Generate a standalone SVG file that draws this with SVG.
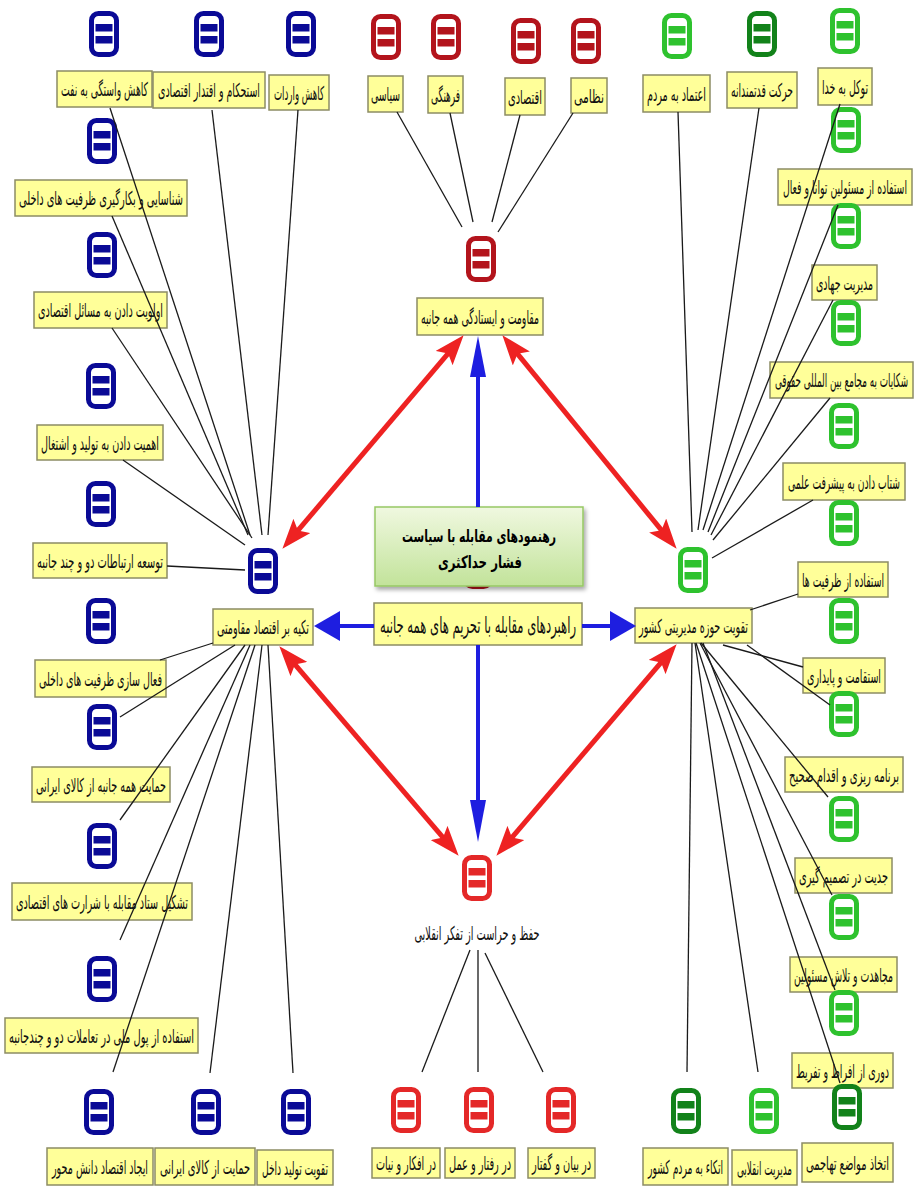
<svg xmlns="http://www.w3.org/2000/svg" xmlns:xlink="http://www.w3.org/1999/xlink" width="915" height="1186" viewBox="0 0 915 1186">
<defs>
<style>
.box{fill:#ffff99;stroke:#8c8c64;stroke-width:1.5}
.t{font-family:"DejaVu Sans Condensed","DejaVu Sans",sans-serif;font-stretch:condensed;font-size:19px;fill:#111;text-anchor:middle}
.ln{stroke:#1a1a1a;stroke-width:1.3;fill:none}
.blue{color:#0a0a96}
.dred{color:#b3141c}
.bred{color:#e42828}
.lgr{color:#2ec22e}
.dgr{color:#12821a}
.ra{stroke:#ee2222;stroke-width:5;fill:none}
.ba{stroke:#1e1ee0;stroke-width:4;fill:none}
</style>
<g id="ic">
<rect x="-12.5" y="-20.5" width="25" height="41" rx="7" fill="#fff" stroke="currentColor" stroke-width="5"/>
<rect x="-8.5" y="-10" width="17" height="7.5" fill="currentColor"/>
<rect x="-8.5" y="2" width="17" height="7.5" fill="currentColor"/>
</g>
<marker id="rh" markerUnits="userSpaceOnUse" viewBox="0 0 30 22" markerWidth="30" markerHeight="22" refX="17" refY="11" orient="auto-start-reverse">
<path d="M0,0 L30,11 L0,22 L6,11 z" fill="#ee2222"/>
</marker>
<linearGradient id="gg" x1="0" y1="0" x2="0" y2="1">
<stop offset="0" stop-color="#f0f8e0"/>
<stop offset="1" stop-color="#c2e39a"/>
</linearGradient>
<filter id="sh" x="-10%" y="-10%" width="130%" height="140%">
<feDropShadow dx="2" dy="3" stdDeviation="2" flood-color="#000" flood-opacity="0.35"/>
</filter>
</defs>
<rect width="915" height="1186" fill="#fff"/>

<!-- left / blue -->
<g id="n-l1"><use href="#ic" x="104" y="34" class="blue"/><rect class="box" x="57" y="71" width="95" height="36"/><text class="t" x="104.5" y="96" textLength="87" lengthAdjust="spacingAndGlyphs">کاهش واستگی به نفت</text></g>
<g id="n-l2"><use href="#ic" x="209" y="34" class="blue"/><rect class="box" x="153" y="72" width="112" height="36"/><text class="t" x="209" y="97" textLength="102" lengthAdjust="spacingAndGlyphs">استحکام و اقتدار اقتصادی</text></g>
<g id="n-l3"><use href="#ic" x="301" y="34" class="blue"/><rect class="box" x="269" y="75" width="60" height="35"/><text class="t" x="299" y="99.5" textLength="50" lengthAdjust="spacingAndGlyphs">کاهش واردات</text></g>
<g id="n-l4"><use href="#ic" x="102" y="141" class="blue"/><rect class="box" x="15" y="180" width="172" height="36"/><text class="t" x="101" y="205" textLength="164" lengthAdjust="spacingAndGlyphs">شناسایی و بکارگیری ظرفیت های داخلی</text></g>
<g id="n-l5"><use href="#ic" x="102" y="255" class="blue"/><rect class="box" x="34" y="292" width="133" height="36"/><text class="t" x="100.5" y="317" textLength="125" lengthAdjust="spacingAndGlyphs">اولویت دادن به مسائل اقتصادی</text></g>
<g id="n-l6"><use href="#ic" x="101" y="386" class="blue"/><rect class="box" x="37" y="425" width="126" height="35"/><text class="t" x="100" y="449.5" textLength="118" lengthAdjust="spacingAndGlyphs">اهمیت دادن به تولید و اشتغال</text></g>
<g id="n-l7"><use href="#ic" x="101" y="504" class="blue"/><rect class="box" x="33" y="543" width="134" height="35"/><text class="t" x="100" y="567.5" textLength="126" lengthAdjust="spacingAndGlyphs">توسعه ارتباطات دو و چند جانبه</text></g>
<g id="n-lh"><use href="#ic" x="263" y="571" class="blue"/><rect class="box" x="213" y="609" width="100" height="36"/><text class="t" x="263" y="634" textLength="92" lengthAdjust="spacingAndGlyphs">تکیه بر اقتصاد مقاومتی</text></g>
<g id="n-l9"><use href="#ic" x="101" y="621" class="blue"/><rect class="box" x="35" y="660" width="131" height="37"/><text class="t" x="100.5" y="685.5" textLength="123" lengthAdjust="spacingAndGlyphs">فعال سازی ظرفیت های داخلی</text></g>
<g id="n-l10"><use href="#ic" x="102" y="727" class="blue"/><rect class="box" x="32" y="767" width="138" height="35"/><text class="t" x="101" y="791.5" textLength="130" lengthAdjust="spacingAndGlyphs">حمایت همه جانبه از کالای ایرانی</text></g>
<g id="n-l11"><use href="#ic" x="102" y="846" class="blue"/><rect class="box" x="12" y="883" width="180" height="37"/><text class="t" x="102" y="908.5" textLength="172" lengthAdjust="spacingAndGlyphs">تشکیل ستاد مقابله با شرارت های اقتصادی</text></g>
<g id="n-l12"><use href="#ic" x="102" y="979" class="blue"/><rect class="box" x="5" y="1018" width="193" height="35"/><text class="t" x="101.5" y="1042.5" textLength="185" lengthAdjust="spacingAndGlyphs">استفاده از پول ملی در تعاملات دو و چندجانبه</text></g>
<g id="n-l13"><use href="#ic" x="99" y="1112" class="blue"/><rect class="box" x="47" y="1148" width="106" height="37"/><text class="t" x="100" y="1173.5" textLength="96" lengthAdjust="spacingAndGlyphs">ایجاد اقتصاد دانش محور</text></g>
<g id="n-l14"><use href="#ic" x="206" y="1112" class="blue"/><rect class="box" x="155" y="1148" width="100" height="37"/><text class="t" x="205" y="1173.5" textLength="90" lengthAdjust="spacingAndGlyphs">حمایت از کالای ایرانی</text></g>
<g id="n-l15"><use href="#ic" x="296" y="1112" class="blue"/><rect class="box" x="257" y="1150" width="76" height="35"/><text class="t" x="295" y="1174.5" textLength="66" lengthAdjust="spacingAndGlyphs">تقویت تولید داخل</text></g>

<!-- top / dark red -->
<g id="n-r1"><use href="#ic" x="386" y="37" class="dred"/><rect class="box" x="368" y="76" width="35" height="36"/><text class="t" x="385.5" y="101" textLength="29" lengthAdjust="spacingAndGlyphs">سیاسی</text></g>
<g id="n-r2"><use href="#ic" x="446" y="37" class="dred"/><rect class="box" x="428" y="76" width="35" height="37"/><text class="t" x="445.5" y="101.5" textLength="29" lengthAdjust="spacingAndGlyphs">فرهنگی</text></g>
<g id="n-r3"><use href="#ic" x="526" y="41" class="dred"/><rect class="box" x="505" y="78" width="40" height="37"/><text class="t" x="525" y="103.5" textLength="34" lengthAdjust="spacingAndGlyphs">اقتصادی</text></g>
<g id="n-r4"><use href="#ic" x="586" y="41" class="dred"/><rect class="box" x="571" y="78" width="36" height="35"/><text class="t" x="589" y="102.5" textLength="30" lengthAdjust="spacingAndGlyphs">نظامی</text></g>
<g id="n-rh"><use href="#ic" x="481" y="259" class="dred"/><rect class="box" x="417" y="298" width="126" height="37"/><text class="t" x="480" y="323.5" textLength="118" lengthAdjust="spacingAndGlyphs">مقاومت و ایستادگی همه جانبه</text></g>

<!-- right / green -->
<g id="n-g1"><use href="#ic" x="677" y="36" class="lgr"/><rect class="box" x="643" y="75" width="67" height="37"/><text class="t" x="676.5" y="100.5" textLength="59" lengthAdjust="spacingAndGlyphs">اعتماد به مردم</text></g>
<g id="n-g2"><use href="#ic" x="762" y="34" class="dgr"/><rect class="box" x="727" y="72" width="70" height="36"/><text class="t" x="762" y="97" textLength="62" lengthAdjust="spacingAndGlyphs">حرکت قدتمندانه</text></g>
<g id="n-g3"><use href="#ic" x="845" y="31" class="lgr"/><rect class="box" x="818" y="68" width="54" height="37"/><text class="t" x="845" y="93.5" textLength="46" lengthAdjust="spacingAndGlyphs">توکل به خدا</text></g>
<g id="n-g4"><use href="#ic" x="846" y="130" class="lgr"/><rect class="box" x="778" y="169" width="134" height="36"/><text class="t" x="845" y="194" textLength="124" lengthAdjust="spacingAndGlyphs">استفاده از مسئولین توانا و فعال</text></g>
<g id="n-g5"><use href="#ic" x="846" y="226" class="lgr"/><rect class="box" x="812" y="265" width="65" height="35"/><text class="t" x="844.5" y="289.5" textLength="57" lengthAdjust="spacingAndGlyphs">مدیریت جهادی</text></g>
<g id="n-g6"><use href="#ic" x="846" y="323" class="lgr"/><rect class="box" x="770" y="362" width="143" height="36"/><text class="t" x="841.5" y="387" textLength="133" lengthAdjust="spacingAndGlyphs">شکایات به مجامع بین المللی حقوقی</text></g>
<g id="n-g7"><use href="#ic" x="844" y="426" class="lgr"/><rect class="box" x="783" y="463" width="122" height="37"/><text class="t" x="844" y="488.5" textLength="112" lengthAdjust="spacingAndGlyphs">شتاب دادن به پیشرفت علمی</text></g>
<g id="n-g8"><use href="#ic" x="844" y="523" class="lgr"/><rect class="box" x="798" y="562" width="90" height="35"/><text class="t" x="843" y="586.5" textLength="82" lengthAdjust="spacingAndGlyphs">استفاده از ظرفیت ها</text></g>
<g id="n-gh"><use href="#ic" x="693" y="570" class="lgr"/><rect class="box" x="635" y="608" width="117" height="35"/><text class="t" x="693.5" y="632.5" textLength="109" lengthAdjust="spacingAndGlyphs">تقویت حوزه مدیریتی کشور</text></g>
<g id="n-g9"><use href="#ic" x="844" y="621" class="lgr"/><rect class="box" x="803" y="658" width="82" height="35"/><text class="t" x="844" y="682.5" textLength="74" lengthAdjust="spacingAndGlyphs">استقامت و پایداری</text></g>
<g id="n-g10"><use href="#ic" x="844" y="714" class="lgr"/><rect class="box" x="785" y="757" width="118" height="35"/><text class="t" x="844" y="781.5" textLength="110" lengthAdjust="spacingAndGlyphs">برنامه ریزی و اقدام صحیح</text></g>
<g id="n-g11"><use href="#ic" x="844" y="819" class="lgr"/><rect class="box" x="795" y="858" width="97" height="35"/><text class="t" x="843.5" y="882.5" textLength="89" lengthAdjust="spacingAndGlyphs">جدیت در تصمیم گیری</text></g>
<g id="n-g12"><use href="#ic" x="844" y="917" class="lgr"/><rect class="box" x="790" y="957" width="107" height="35"/><text class="t" x="843.5" y="981.5" textLength="99" lengthAdjust="spacingAndGlyphs">مجاهدت و تلاش مسئولین</text></g>
<g id="n-g13"><use href="#ic" x="844" y="1013" class="lgr"/><rect class="box" x="792" y="1053" width="101" height="35"/><text class="t" x="842.5" y="1077.5" textLength="93" lengthAdjust="spacingAndGlyphs">دوری از افراط و تفریط</text></g>
<g id="n-g14"><use href="#ic" x="847" y="1107" class="dgr"/><rect class="box" x="802" y="1143" width="91" height="39"/><text class="t" x="847.5" y="1169.5" textLength="83" lengthAdjust="spacingAndGlyphs">اتخاذ مواضع تهاجمی</text></g>
<g id="n-g15"><use href="#ic" x="686" y="1111" class="dgr"/><rect class="box" x="643" y="1148" width="85" height="37"/><text class="t" x="685.5" y="1173.5" textLength="75" lengthAdjust="spacingAndGlyphs">اتکاء به مردم کشور</text></g>
<g id="n-g16"><use href="#ic" x="764" y="1111" class="lgr"/><rect class="box" x="732" y="1150" width="65" height="35"/><text class="t" x="764.5" y="1174.5" textLength="55" lengthAdjust="spacingAndGlyphs">مدیریت انقلابی</text></g>

<!-- bottom / bright red -->
<g id="n-bh"><use href="#ic" x="477" y="878" class="bred"/><text class="t" x="477" y="940" fill="#222" textLength="125" lengthAdjust="spacingAndGlyphs">حفظ و حراست از تفکر انقلابی</text></g>
<g id="n-b1"><use href="#ic" x="406" y="1110" class="bred"/><rect class="box" x="372" y="1148" width="68" height="30"/><text class="t" x="406" y="1170" textLength="60" lengthAdjust="spacingAndGlyphs">در افکار و نیات</text></g>
<g id="n-b2"><use href="#ic" x="479" y="1110" class="bred"/><rect class="box" x="445" y="1148" width="70" height="30"/><text class="t" x="480" y="1170" textLength="62" lengthAdjust="spacingAndGlyphs">در رفتار و عمل</text></g>
<g id="n-b3"><use href="#ic" x="561" y="1110" class="bred"/><rect class="box" x="528" y="1148" width="67" height="30"/><text class="t" x="561.5" y="1170" textLength="59" lengthAdjust="spacingAndGlyphs">در بیان و گفتار</text></g>

<!-- center -->
<g id="n-center">
<use href="#ic" x="478" y="566" class="dred"/>
<rect x="375" y="507" width="208" height="79" fill="url(#gg)" stroke="#96c864" stroke-width="1.5" filter="url(#sh)"/>
<text x="479" y="542" font-family="'DejaVu Sans',sans-serif" font-size="17" font-weight="bold" fill="#000" text-anchor="middle" textLength="154" lengthAdjust="spacingAndGlyphs">رهنمودهای مقابله با سیاست</text>
<text x="480" y="568" font-family="'DejaVu Sans',sans-serif" font-size="17" font-weight="bold" fill="#000" text-anchor="middle" textLength="84" lengthAdjust="spacingAndGlyphs">فشار حداکثری</text>
</g>
<g id="n-main"><rect class="box" x="374" y="603" width="208" height="42"/><text class="t" x="478" y="633" style="font-size:23px" textLength="196" lengthAdjust="spacingAndGlyphs">راهبردهای مقابله با تحریم های همه جانبه</text></g>

<!-- connectors -->
<g id="connectors">
<g class="ln">
<line x1="110" y1="108" x2="250" y2="535"/>
<line x1="212" y1="110" x2="262" y2="535"/>
<line x1="298" y1="110" x2="268" y2="535"/>
<line x1="112" y1="216" x2="248" y2="535"/>
<line x1="112" y1="328" x2="252" y2="538"/>
<line x1="123" y1="460" x2="245" y2="545"/>
<line x1="167" y1="566" x2="245" y2="570"/>
<line x1="213" y1="643" x2="160" y2="660"/>
<line x1="235" y1="645" x2="120" y2="717"/>
<line x1="245" y1="645" x2="120" y2="820"/>
<line x1="250" y1="645" x2="120" y2="940"/>
<line x1="255" y1="645" x2="113" y2="1072"/>
<line x1="262" y1="645" x2="210" y2="1073"/>
<line x1="268" y1="645" x2="293" y2="1073"/>
<line x1="397" y1="112" x2="462" y2="227"/>
<line x1="450" y1="113" x2="473" y2="222"/>
<line x1="520" y1="115" x2="492" y2="222"/>
<line x1="573" y1="113" x2="498" y2="232"/>
<line x1="678" y1="112" x2="692" y2="532"/>
<line x1="759" y1="108" x2="698" y2="530"/>
<line x1="840" y1="104" x2="703" y2="530"/>
<line x1="838" y1="205" x2="708" y2="532"/>
<line x1="833" y1="300" x2="711" y2="535"/>
<line x1="830" y1="398" x2="713" y2="540"/>
<line x1="813" y1="500" x2="712" y2="558"/>
<line x1="750" y1="610" x2="798" y2="594"/>
<line x1="723" y1="645" x2="803" y2="667"/>
<line x1="747" y1="645" x2="830" y2="705"/>
<line x1="701" y1="643" x2="828" y2="797"/>
<line x1="700" y1="643" x2="832" y2="895"/>
<line x1="703" y1="643" x2="835" y2="990"/>
<line x1="696" y1="643" x2="840" y2="1083"/>
<line x1="695" y1="643" x2="758" y2="1072"/>
<line x1="692" y1="643" x2="687" y2="1072"/>
<line x1="470" y1="950" x2="422" y2="1072"/>
<line x1="478" y1="950" x2="478" y2="1072"/>
<line x1="485" y1="953" x2="543" y2="1072"/>
</g>
<g class="ra" marker-start="url(#rh)" marker-end="url(#rh)">
<line x1="455.2" y1="345.1" x2="290.8" y2="538.9"/>
<line x1="510.6" y1="345.3" x2="668.4" y2="538.7"/>
<line x1="287.8" y1="656.1" x2="450.2" y2="845.9"/>
<line x1="668.2" y1="654.1" x2="504.8" y2="845.9"/>
</g>
<g class="ba">
<line x1="478" y1="507" x2="478" y2="372"/>
<line x1="478" y1="645" x2="478" y2="804"/>
<line x1="374" y1="626" x2="338" y2="626"/>
<line x1="582" y1="626" x2="612" y2="626"/>
</g>
<g fill="#1e1ee0">
<polygon points="478,336 486,377 470,377"/>
<polygon points="478,842 470,800 486,800"/>
<polygon points="314,626 340,611 340,641"/>
<polygon points="636,626 610,611 610,641"/>
</g>
</g>
</svg>
